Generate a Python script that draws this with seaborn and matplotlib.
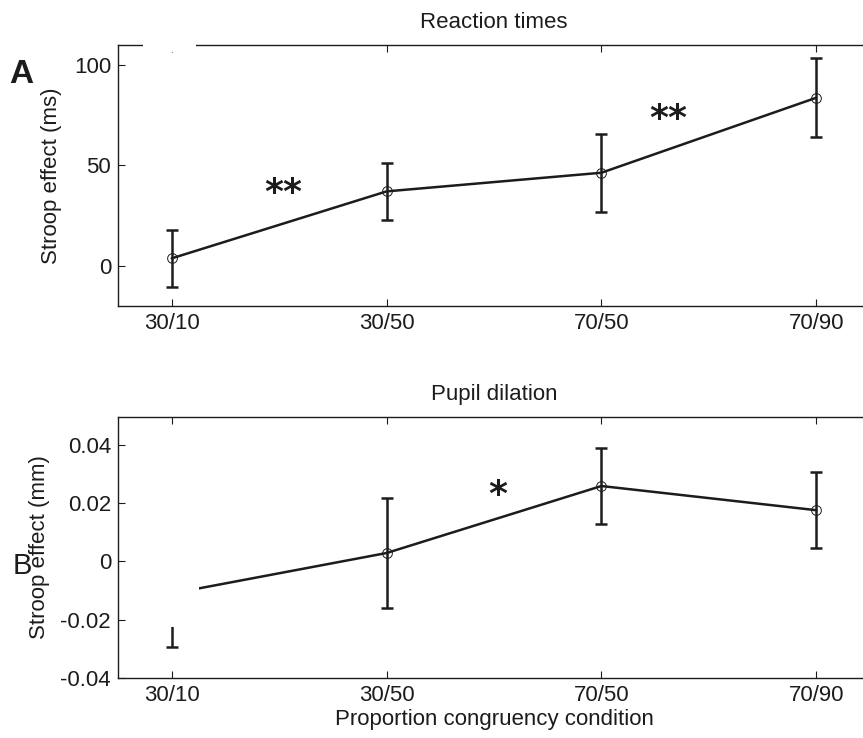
import numpy as np
import pandas as pd
import matplotlib
matplotlib.use("Agg")
import matplotlib.pyplot as plt
from matplotlib.patches import Rectangle
import seaborn as sns

# data
conditions = ["30/10", "30/50", "70/50", "70/90"]
rt_mean = [3.6, 37.0, 46.3, 83.7]
rt_err = [14.1, 14.4, 19.4, 19.7]
pupil_mean = [-0.011, 0.0029, 0.0259, 0.0176]
pupil_err = [0.0183, 0.0188, 0.0130, 0.0131]

rt_yticks = [0, 50, 100]
rt_yticklabels = ["0", "50", "100"]
pupil_yticks = [-0.04, -0.02, 0, 0.02, 0.04]
pupil_yticklabels = ["-0.04", "-0.02", "0", "0.02", "0.04"]

sns.set_style("ticks")
plt.rcParams["font.family"] = ["Liberation Sans", "DejaVu Sans"]

ink = "#1c1c1c"
fig = plt.figure(figsize=(8.63, 7.38), dpi=100)
ax1 = fig.add_axes([0.1367, 0.5858, 0.8714, 0.3532])
ax2 = fig.add_axes([0.1367, 0.0813, 0.8714, 0.3537])

pos = np.arange(len(conditions))


def draw(ax, mean, err):
    df = pd.DataFrame({"pos": pos, "mean": mean})
    ax.errorbar(pos, mean, yerr=err, fmt="none", ecolor=ink, elinewidth=1.8,
                capsize=4.6, capthick=1.8, zorder=2)
    sns.lineplot(data=df, x="pos", y="mean", ax=ax, color=ink, linewidth=1.8,
                 marker="o", markersize=7, markerfacecolor="none",
                 markeredgecolor=ink, markeredgewidth=0.7, zorder=2)
    ax.set_xlim(-0.25, 3.25)
    ax.set_xticks(pos)
    ax.set_xticklabels(conditions)
    ax.set_axisbelow(False)
    ax.tick_params(direction="in", length=5, width=0.8, colors=ink,
                   labelsize=16, labelcolor=ink, pad=5,
                   top=True, right=True)
    for s in ax.spines.values():
        s.set_linewidth(1.0)
        s.set_color(ink)
        s.set_visible(True)


def stars(ax, x, y, s):
    ax.text(x, y, s, fontsize=26, fontweight="bold", family="DejaVu Sans",
            ha="center", va="center", color=ink)


draw(ax1, rt_mean, rt_err)
ax1.set_ylim(-20, 110)
ax1.set_yticks(rt_yticks)
ax1.set_yticklabels(rt_yticklabels)
ax1.set_xlabel("")
ax1.set_ylabel("Stroop effect (ms)", fontsize=16, color=ink)
ax1.yaxis.set_label_coords(-0.074, 0.5)
ax1.set_title("Reaction times", fontsize=16, color=ink, pad=12)
stars(ax1, 0.52, 36.0, "**")
stars(ax1, 2.31, 73.0, "**")

draw(ax2, pupil_mean, pupil_err)
ax2.set_ylim(-0.04, 0.0496)
ax2.set_yticks(pupil_yticks)
ax2.set_yticklabels(pupil_yticklabels)
ax2.set_xlabel("Proportion congruency condition", fontsize=16, color=ink,
               labelpad=2)
ax2.set_ylabel("Stroop effect (mm)", fontsize=16, color=ink)
ax2.yaxis.set_label_coords(-0.090, 0.5)
ax2.set_title("Pupil dilation", fontsize=16, color=ink, pad=12)
stars(ax2, 1.516, 0.0227, "*")

# white boxes from the original panel layout
ax2.add_patch(Rectangle((-0.25, -0.0226), 0.3756, 0.08, facecolor="white",
                        edgecolor="none", zorder=2.3))
fig.add_artist(Rectangle((0.1657, 0.93), 0.0614, 0.07, facecolor="white",
                         edgecolor="none", transform=fig.transFigure, zorder=5))

fig.text(0.0243, 0.8997, "A", fontsize=24, fontweight="bold", color=ink,
         ha="center", va="center")
fig.text(0.0255, 0.2331, "B", fontsize=21, color=ink, ha="center", va="center")

fig.savefig("out.png", dpi=100)
